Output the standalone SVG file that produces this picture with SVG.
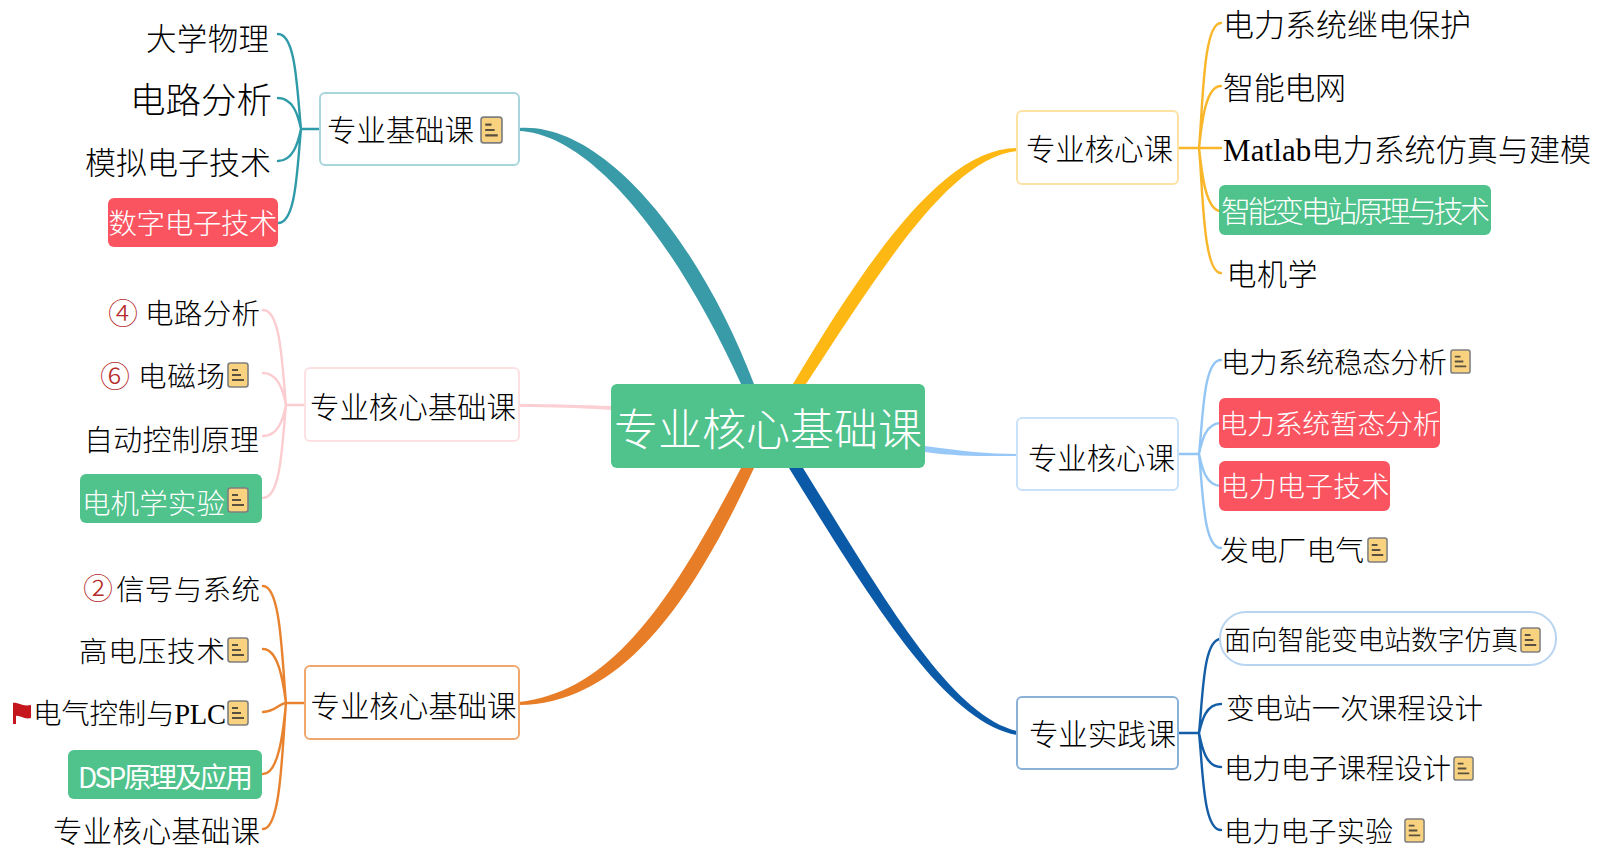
<svg xmlns="http://www.w3.org/2000/svg" width="1600" height="864" viewBox="0 0 1600 864">
<style>
text{font-family:"Liberation Serif","Noto Sans CJK SC",serif;font-weight:300;fill:#000}
text.w{fill:#fff}
text.s{font-family:"Noto Sans CJK SC",sans-serif;font-weight:400}
text.c{fill:#b52a2a;font-family:"Noto Sans CJK SC",sans-serif}
.box{fill:#fff;stroke-width:2}
.r{fill:#fb5461}.g{fill:#50c28c}
.l{fill:none;stroke-width:2.4;stroke-linecap:round}
.teal{stroke:#2f9aa8}.pink{stroke:#fbcdd0}.or{stroke:#e8822e}.ye{stroke:#f9b62a}.lb{stroke:#93c6f5}.nv{stroke:#135ea6}
</style>
<defs>
<symbol id="note" viewBox="0 0 22 26" preserveAspectRatio="none">
<rect x="1" y="1" width="20" height="24" rx="2.5" fill="#f8d27e" stroke="#7f7f7f" stroke-width="1.6"/>
<path d="M5 8H11M5 13H14M5 18H17" stroke="#5a5040" stroke-width="1.9" fill="none"/>
</symbol>
</defs>
<rect width="1600" height="864" fill="#fff"/>
<g id="connectors">
<path fill="#3a9ba8" d="M519,128 C604,122 700,242 754,384 L741,384 C682,254 596,134 519,131Z"/>
<path fill="#fdb813" d="M1017,148 C945,148 870,255 793,384 L806,384 C882,268 950,158 1017,151Z"/>
<path fill="#e87d27" d="M519,702 C612,692 672,600 741,468 L754,468 C692,602 622,704 519,705Z"/>
<path fill="#0b5aa8" d="M1017,731 C950,715 884,598 803,468 L789,468 C872,602 945,722 1017,735Z"/>
<path fill="#98c8f8" d="M925,446 C960,451 990,454 1017,454 L1017,456 C990,456 960,457 925,452Z"/>
<path fill="#fbcfd3" d="M519,404 C550,404 585,405 611,406 L611,410 C585,408 550,407 519,407Z"/>
<g class="l teal">
<path d="M278,34C296,34 297,90 301,129M278,98C293,98 298,115 301,129M278,161C293,161 298,143 301,129M278,223C296,223 297,170 301,129M301,129H320"/>
</g>
<g class="l pink">
<path d="M263,310C281,310 282,365 286,405M263,373C278,373 283,390 286,405M263,436C278,436 283,420 286,405M263,498C281,498 282,445 286,405M286,405H305"/>
</g>
<g class="l or">
<path d="M263,586C281,586 282,660 286,703M263,649C278,649 283,680 286,703M263,712C275,712 280,703 286,703M263,774C278,774 283,735 286,703M263,829C281,829 282,750 286,703M286,703H305"/>
</g>
<g class="l ye">
<path d="M1221,23C1203,23 1203,105 1199,148M1221,86C1206,86 1202,120 1199,148M1221,148H1178M1221,211C1206,211 1202,175 1199,148M1221,273C1203,273 1203,190 1199,148"/>
</g>
<g class="l lb">
<path d="M1221,360C1203,360 1203,420 1199,454M1221,423C1206,423 1202,440 1199,454M1221,486C1206,486 1202,468 1199,454M1221,548C1203,548 1203,490 1199,454M1199,454H1178"/>
</g>
<g class="l nv">
<path d="M1221,639C1203,639 1203,695 1199,733M1221,704C1206,704 1202,720 1199,733M1221,767C1206,767 1202,748 1199,733M1221,830C1203,830 1203,770 1199,733M1199,733H1178"/>
</g>
</g>

<g id="root"><rect x="611" y="384" width="314" height="84" rx="6" class="g"/><text class="w" x="614" y="446" font-size="44" textLength="308">专业核心基础课</text></g>

<g id="n1"><rect x="320" y="93" width="199" height="72" rx="5" class="box" stroke="#a9d6dc"/><text x="327" y="141" font-size="29.500" textLength="147">专业基础课</text><use href="#note" x="480" y="116" width="23" height="28"/></g>
<g id="n1a"><text x="146" y="50" font-size="30.500" textLength="123">大学物理</text></g>
<g id="n1b"><text x="130" y="113" font-size="35.500" textLength="142">电路分析</text></g>
<g id="n1c"><text x="85" y="174" font-size="31" textLength="186">模拟电子技术</text></g>
<g id="n1d"><rect x="108" y="198" width="170" height="49" rx="6" class="r"/><text class="w" x="108.500" y="234" font-size="28.500" textLength="169">数字电子技术</text></g>

<g id="n2"><rect x="305" y="368" width="214" height="73" rx="5" class="box" stroke="#fde0e2"/><text x="310" y="417.500" font-size="29.500" textLength="206">专业核心基础课</text></g>
<g id="n2a"><text class="c" x="108" y="324" font-size="30">④</text><text x="145" y="324" font-size="28.500" textLength="115">电路分析</text></g>
<g id="n2b"><text class="c" x="100" y="387" font-size="30">⑥</text><text x="138" y="387" font-size="28.500" textLength="87">电磁场</text><use href="#note" x="227" y="362" width="22" height="26"/></g>
<g id="n2c"><text x="84" y="451" font-size="29" textLength="175">自动控制原理</text></g>
<g id="n2d"><rect x="80" y="474" width="182" height="49" rx="6" class="g"/><text class="w" x="82" y="514" font-size="28.500" textLength="143">电机学实验</text><use href="#note" x="227" y="487" width="22" height="26"/></g>

<g id="n3"><rect x="305" y="666" width="214" height="73" rx="5" class="box" stroke="#f0a76e"/><text x="310.500" y="716.500" font-size="29.500" textLength="206">专业核心基础课</text></g>
<g id="n3a"><text class="c" x="83" y="599" font-size="30">②</text><text x="116" y="600" font-size="28.500" textLength="144">信号与系统</text></g>
<g id="n3b"><text x="79" y="662" font-size="28.500" textLength="146">高电压技术</text><use href="#note" x="227" y="637" width="22" height="26"/></g>
<g id="n3c"><path d="M13,703 C18,702 22,707 31,705 L31,718 C24,720 20,715 16,716 L16,724 L13,724Z" fill="#c4161c"/><text x="33" y="724" font-size="28.500" textLength="193">电气控制与PLC</text><use href="#note" x="227" y="700" width="22" height="26"/></g>
<g id="n3d"><rect x="68" y="750" width="194" height="49" rx="6" class="g"/><text class="w s" x="78" y="788" font-size="28" textLength="175">DSP原理及应用</text></g>
<g id="n3e"><text x="53" y="842" font-size="29.500" textLength="207">专业核心基础课</text></g>

<g id="n4"><rect x="1017" y="111" width="161" height="73" rx="5" class="box" stroke="#fde2a3"/><text x="1026" y="160" font-size="29.500" textLength="147">专业核心课</text></g>
<g id="n4a"><text x="1223" y="36" font-size="31" textLength="248">电力系统继电保护</text></g>
<g id="n4b"><text x="1223" y="99" font-size="31" textLength="123">智能电网</text></g>
<g id="n4c"><text x="1223" y="161" font-size="31" textLength="368">Matlab电力系统仿真与建模</text></g>
<g id="n4d"><rect x="1219" y="185" width="272" height="50" rx="6" class="g"/><text class="w" x="1221" y="222" font-size="30" textLength="269">智能变电站原理与技术</text></g>
<g id="n4e"><text x="1226.500" y="285" font-size="30" textLength="91">电机学</text></g>

<g id="n5"><rect x="1017" y="418" width="161" height="72" rx="5" class="box" stroke="#c9e2fb"/><text x="1028" y="469" font-size="29.500" textLength="147">专业核心课</text></g>
<g id="n5a"><text x="1221" y="373" font-size="28.400" textLength="226">电力系统稳态分析</text><use href="#note" x="1450" y="349" width="21" height="25"/></g>
<g id="n5b"><rect x="1219" y="398" width="221" height="50" rx="6" class="r"/><text class="w" x="1219.500" y="434" font-size="27.800" textLength="221">电力系统暂态分析</text></g>
<g id="n5c"><rect x="1219" y="461" width="171" height="50" rx="6" class="r"/><text class="w" x="1220.500" y="497" font-size="28" textLength="169">电力电子技术</text></g>
<g id="n5d"><text x="1220" y="561" font-size="28.800" textLength="144">发电厂电气</text><use href="#note" x="1367" y="537" width="21" height="26"/></g>

<g id="n6"><rect x="1017" y="697" width="161" height="72" rx="5" class="box" stroke="#8ab2d8"/><text x="1029" y="745" font-size="29.500" textLength="147">专业实践课</text></g>
<g id="n6a"><rect x="1220" y="612" width="336" height="53" rx="26" fill="#fff" stroke="#b9d4f1" stroke-width="2"/><text x="1224" y="650" font-size="26.800" textLength="294">面向智能变电站数字仿真</text><use href="#note" x="1520" y="627" width="21" height="26"/></g>
<g id="n6b"><text x="1226" y="719" font-size="28.500" textLength="257">变电站一次课程设计</text></g>
<g id="n6c"><text x="1224" y="779" font-size="28.500" textLength="227">电力电子课程设计</text><use href="#note" x="1453" y="756" width="21" height="25"/></g>
<g id="n6d"><text x="1224" y="842" font-size="28" textLength="169">电力电子实验</text><use href="#note" x="1404" y="818" width="21" height="25"/></g>
</svg>
